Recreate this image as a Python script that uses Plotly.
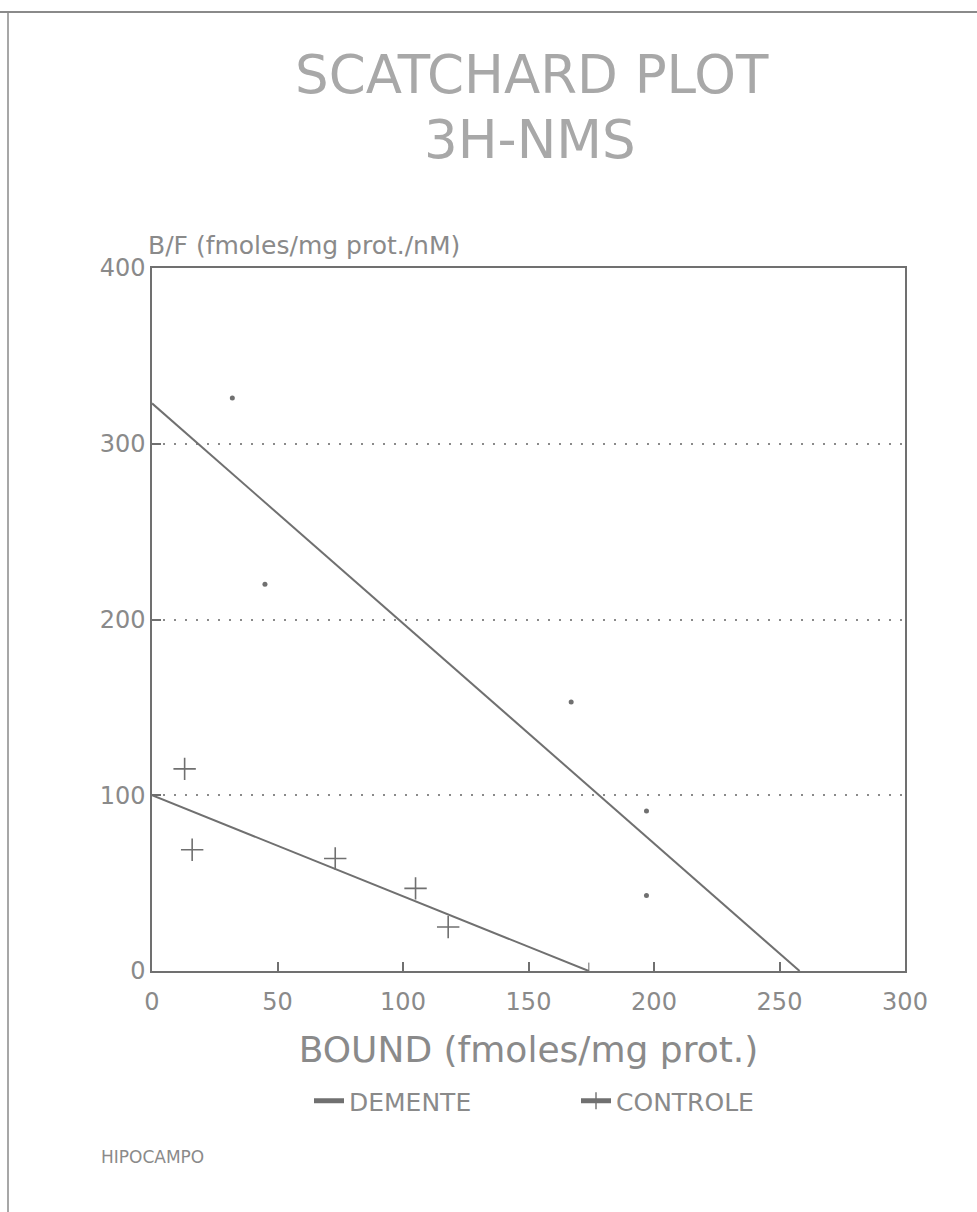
import plotly.graph_objects as go

# ---- data ----
demente_bound = [32, 45, 167, 197, 197]
demente_bf = [326, 220, 153, 91, 43]
controle_bound = [13, 16, 73, 105, 118]
controle_bf = [115, 69, 64, 47, 25]
demente_fit_x = [0, 258]
demente_fit_y = [323, 0]
controle_fit_x = [0, 174]
controle_fit_y = [100, 0]

x_ticks = [0, 50, 100, 150, 200, 250, 300]
y_ticks = [0, 100, 200, 300, 400]
y_ticklabels = ["0", "100", "200", "300", "400"]

INK = "#707070"
TXT = "#8a8a8a"
FONT = "DejaVu Sans"

fig = go.Figure()

fig.add_trace(go.Scatter(
    x=demente_fit_x, y=demente_fit_y, mode="lines", name="DEMENTE",
    line=dict(color=INK, width=2)))
fig.add_trace(go.Scatter(
    x=controle_fit_x, y=controle_fit_y, mode="lines+markers", name="CONTROLE",
    line=dict(color=INK, width=2),
    marker=dict(symbol="line-ns", size=[0, 12], color=INK,
                line=dict(color=INK, width=1.5))))
fig.add_trace(go.Scatter(
    x=demente_bound, y=demente_bf, mode="markers", showlegend=False,
    marker=dict(symbol="circle", size=5, color=INK)))
fig.add_trace(go.Scatter(
    x=controle_bound, y=controle_bf, mode="markers", showlegend=False,
    marker=dict(symbol="cross-thin", size=16, color=INK,
                line=dict(color=INK, width=1.6))))

# plot area geometry (pixels) for converting border lines to paper coords
L, R, T, B = 152, 905, 268, 971
W, H = 977, 1212
def px(xp):
    return (xp - L) / (R - L)
def py(yp):
    return (B - yp) / (B - T)

fig.update_layout(
    width=W, height=H,
    margin=dict(l=L, r=W - R, t=T, b=H - B),
    paper_bgcolor="white", plot_bgcolor="white",
    font=dict(family=FONT, color=TXT),
    showlegend=True,
    legend=dict(orientation="h", x=px(309), xanchor="left", y=py(1101), yanchor="middle",
                font=dict(size=25, color=TXT), itemsizing="constant",
                entrywidth=222, traceorder="normal", bgcolor="rgba(0,0,0,0)"),
    xaxis=dict(range=[0, 300], tickvals=x_ticks, ticktext=[str(v) for v in x_ticks],
               showgrid=False, zeroline=False, showline=True, mirror=True,
               linecolor=INK, linewidth=1.5, ticks="inside", ticklen=9, tickcolor=INK,
               tickwidth=1.5, tickfont=dict(size=24, color=TXT), ticklabelstandoff=8,
               title=dict(text="BOUND (fmoles/mg prot.)", font=dict(size=36, color=TXT),
                          standoff=22)),
    yaxis=dict(range=[0, 400], tickvals=y_ticks, ticktext=y_ticklabels,
               showgrid=True, gridcolor="#8a8a8a", gridwidth=1.5, griddash="2px,9px",
               zeroline=False, showline=True, mirror=True,
               linecolor=INK, linewidth=1.5, ticks="inside", ticklen=9, tickcolor=INK,
               tickwidth=1.5, tickfont=dict(size=24, color=TXT)),
    annotations=[
        dict(text="SCATCHARD PLOT", xref="paper", yref="paper", x=px(532), y=py(74),
             xanchor="center", yanchor="middle", showarrow=False,
             font=dict(size=53, color="#a8a8a8")),
        dict(text="3H-NMS", xref="paper", yref="paper", x=px(530), y=py(140),
             xanchor="center", yanchor="middle", showarrow=False,
             font=dict(size=53, color="#a8a8a8")),
        dict(text="B/F (fmoles/mg prot./nM)", xref="paper", yref="paper", x=px(146), y=py(245),
             xanchor="left", yanchor="middle", showarrow=False,
             font=dict(size=25, color=TXT)),
        dict(text="HIPOCAMPO", xref="paper", yref="paper", x=px(99), y=py(1157),
             xanchor="left", yanchor="middle", showarrow=False,
             font=dict(size=17, color=TXT)),
    ],
    shapes=[
        dict(type="line", xref="paper", yref="paper", x0=px(0), x1=px(977), y0=py(12), y1=py(12),
             line=dict(color="#8a8a8a", width=2)),
        dict(type="line", xref="paper", yref="paper", x0=px(8), x1=px(8), y0=py(12), y1=py(1212),
             line=dict(color="#8a8a8a", width=1.5)),
    ],
)

fig.write_html("out.html")
